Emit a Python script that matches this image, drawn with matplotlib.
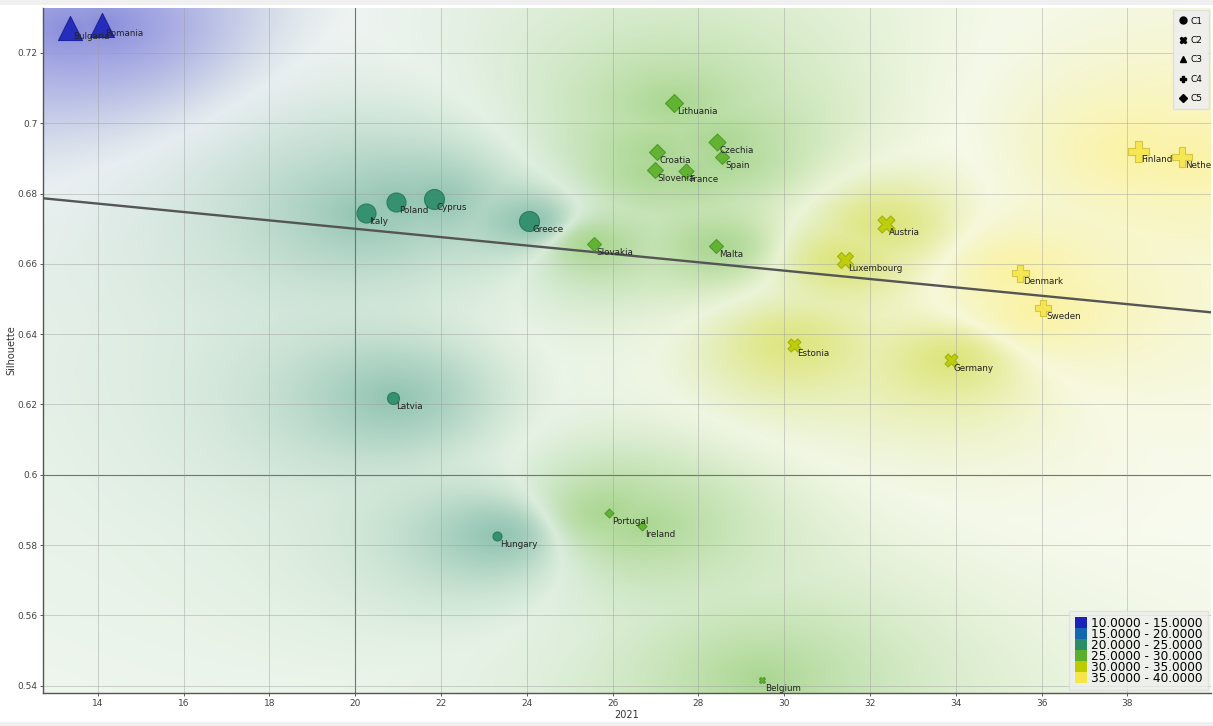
import numpy as np
import matplotlib
matplotlib.use("Agg")
import matplotlib.pyplot as plt
from matplotlib.colors import to_rgb
from matplotlib.lines import Line2D
from matplotlib.patches import Patch, Rectangle

# ─── Data ─────────────────────────────────────────────────────────────────────
countries = ["Bulgaria", "Romania",
             "Italy", "Poland", "Cyprus", "Greece", "Latvia", "Hungary",
             "Lithuania", "Croatia", "Slovenia", "France", "Czechia", "Spain",
             "Slovakia", "Malta", "Portugal", "Ireland",
             "Austria", "Luxembourg", "Estonia", "Germany", "Belgium",
             "Finland", "Netherlands", "Denmark", "Sweden"]
x2021 = [13.35, 14.09,
         20.25, 20.95, 21.83, 24.05, 20.88, 23.30,
         27.43, 27.03, 26.98, 27.71, 28.43, 28.55,
         25.56, 28.41, 25.91, 26.68,
         32.37, 31.41, 30.22, 33.88, 29.48,
         38.24, 39.27, 35.49, 36.03]
silhouette = [0.7271, 0.7280,
              0.6745, 0.6776, 0.6785, 0.6722, 0.6218, 0.5825,
              0.7058, 0.6918, 0.6867, 0.6864, 0.6947, 0.6904,
              0.6656, 0.6651, 0.5891, 0.5854,
              0.6713, 0.6611, 0.6369, 0.6326, 0.5416,
              0.6921, 0.6904, 0.6574, 0.6474]
cluster = ["C3", "C3",
           "C1", "C1", "C1", "C1", "C1", "C1",
           "C5", "C5", "C5", "C5", "C5", "C5", "C5", "C5", "C5", "C5",
           "C2", "C2", "C2", "C2", "C2",
           "C4", "C4", "C4", "C4"]
# marker size variable (approx. width in pixels)
msize = [24, 24,
         19, 19, 20, 20, 12, 9,
         18, 16, 16, 15, 17, 14, 14, 14, 9, 9,
         17, 16, 13, 13, 6,
         21, 20, 17, 16]

bin_edges = [10, 15, 20, 25, 30, 35, 40]
bin_labels = ["10.0000 - 15.0000", "15.0000 - 20.0000", "20.0000 - 25.0000",
              "25.0000 - 30.0000", "30.0000 - 35.0000", "35.0000 - 40.0000"]
bin_colors = ["#1a22b8", "#1566b0", "#2b8c68", "#5ab02a", "#bccc00", "#f5e64a"]

shape_labels = ["C1", "C2", "C3", "C4", "C5"]
shape_markers = {"C1": "o", "C2": "X", "C3": "^", "C4": "P", "C5": "D"}

XLIM = (12.72, 39.95)
YLIM = (0.5379, 0.7328)


# ─── Helpers ──────────────────────────────────────────────────────────────────
def bin_index(v):
    return int(np.clip(np.digitize(v, bin_edges) - 1, 0, len(bin_colors) - 1))


def density_image(xs, ys, cls, nx=600, ny=360, power=3.0, amax=0.52):
    u = (np.asarray(xs) - XLIM[0]) / (XLIM[1] - XLIM[0])
    v = (np.asarray(ys) - YLIM[0]) / (YLIM[1] - YLIM[0])
    gu, gv = np.meshgrid(np.linspace(0, 1, nx), np.linspace(0, 1, ny))
    d2 = (gu[..., None] - u) ** 2 + (gv[..., None] - v) ** 2 + 1e-5
    w = d2 ** (-power / 2)
    wsum = w.sum(-1)
    rgb = np.array([to_rgb(bin_colors[c]) for c in cls])
    onehot = np.eye(len(bin_colors))[cls]
    probs = (w @ onehot) / wsum[..., None]
    mean_rgb = (w @ rgb) / wsum[..., None]
    lo = 1.0 / len(set(cls))
    margin = np.clip((probs.max(-1) - lo) / (1 - lo), 0, 1)
    d1 = np.sqrt(d2.min(-1))
    alpha = amax * (0.2 + 0.8 * margin) * (0.45 + 0.55 * np.exp(-d1 / 0.1))
    return 1 - alpha[..., None] * (1 - mean_rgb)


# ─── Figure ───────────────────────────────────────────────────────────────────
fig = plt.figure(figsize=(12.13, 7.26), dpi=100)
fig.patches.append(Rectangle((0, 1 - 5 / 726), 1, 5 / 726, transform=fig.transFigure,
                             facecolor="#f0f0f0", edgecolor="none"))
fig.patches.append(Rectangle((0, 0), 1, 4 / 726, transform=fig.transFigure,
                             facecolor="#f0f0f0", edgecolor="none"))
ax = fig.add_axes([43 / 1213, 33 / 726, 1168 / 1213, 685 / 726])

cls = [bin_index(v) for v in x2021]
img = density_image(x2021, silhouette, cls)
ax.imshow(img, extent=(*XLIM, *YLIM), origin="lower", aspect="auto",
          interpolation="bilinear", zorder=0)

# grid
ax.set_xticks(range(14, 39, 2))
ax.set_yticks(np.round(np.arange(0.54, 0.7201, 0.02), 2))
ax.grid(True, color="#9a9a9a", lw=0.6, alpha=0.5, zorder=1)
ax.axvline(20, color="#5a5a5a", lw=0.8, zorder=1)
ax.axhline(0.6, color="#5a5a5a", lw=0.8, zorder=1)

# regression line
coef = np.polyfit(x2021, silhouette, 1)
xl = np.array(XLIM)
ax.plot(xl, np.polyval(coef, xl), color="#555555", lw=1.7, zorder=2)

# points
for i, name in enumerate(countries):
    m = shape_markers[cluster[i]]
    d = msize[i] * 0.72
    if m == "D":
        d = d / 1.414
    col = bin_colors[cls[i]]
    edge = tuple(c * 0.85 for c in to_rgb(col))
    ax.scatter(x2021[i], silhouette[i], s=d ** 2, marker=m, facecolor=col,
               edgecolor=edge, linewidths=0.8, alpha=0.9, zorder=3)
    ax.annotate(name, (x2021[i], silhouette[i]), xytext=(2.2, -3.0),
                textcoords="offset points", ha="left", va="top",
                fontsize=6.3, color="#222222", zorder=4, clip_on=True)

ax.set_xlim(XLIM)
ax.set_ylim(YLIM)
ax.xaxis.set_major_formatter(plt.FuncFormatter(lambda v, p: f"{round(v, 2):g}"))
ax.yaxis.set_major_formatter(plt.FuncFormatter(lambda v, p: f"{round(v, 2):g}"))
ax.tick_params(labelsize=6.5, colors="#444444", length=2, width=0.6, pad=2)
for side in ("top", "right"):
    ax.spines[side].set_visible(False)
for side in ("left", "bottom"):
    ax.spines[side].set_color("#555555")
    ax.spines[side].set_linewidth(1.0)
ax.set_xlabel("2021", fontsize=7, color="#333333", labelpad=2)
ax.set_ylabel("Silhouette", fontsize=7, color="#333333", labelpad=1)

# shape legend
shape_handles = [Line2D([], [], marker=shape_markers[c], color="black", ls="",
                        markersize=5 if shape_markers[c] != "D" else 4)
                 for c in shape_labels]
leg1 = ax.legend(shape_handles, shape_labels, loc="upper right", fontsize=6.5,
                 frameon=True, facecolor="#eeeeee", edgecolor="#dddddd",
                 framealpha=0.9, fancybox=False, labelspacing=1.15,
                 handlelength=0.8, handletextpad=0.4, borderpad=0.7,
                 borderaxespad=0.25)
ax.add_artist(leg1)

# colour legend
color_handles = [Patch(facecolor=c, edgecolor="none") for c in bin_colors]
ax.legend(color_handles, bin_labels, loc="lower right", fontsize=8.7,
          frameon=True, facecolor="#eeeeee", edgecolor="#dddddd",
          framealpha=0.7, fancybox=False, labelspacing=-0.17,
          handlelength=1.0, handleheight=1.0, handletextpad=0.35,
          borderpad=0.45, borderaxespad=0.25)

fig.savefig("out.png", dpi=100)
